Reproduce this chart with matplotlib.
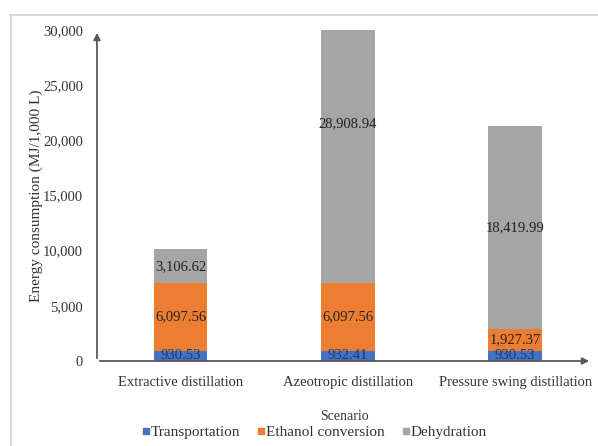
import matplotlib
matplotlib.use("Agg")
import matplotlib.pyplot as plt
from matplotlib.lines import Line2D
import numpy as np

scenarios = ["Extractive distillation", "Azeotropic distillation", "Pressure swing distillation"]
transportation = [930.53, 932.41, 930.53]
ethanol_conversion = [6097.56, 6097.56, 1927.37]
dehydration = [3106.62, 28908.94, 18419.99]
series_names = ["Transportation", "Ethanol conversion", "Dehydration"]
colors = ["#4472C4", "#ED7D31", "#A5A5A5"]
yticks = [0, 5000, 10000, 15000, 20000, 25000, 30000]

plt.rcParams["font.family"] = ["Liberation Serif", "DejaVu Serif"]

W, H = 598, 446
fig = plt.figure(figsize=(W / 100, H / 100), dpi=100)
ax = fig.add_axes([97 / W, 1 - 361 / H, (592 - 97) / W, (361 - 30) / H])

x = np.arange(len(scenarios))
width = 0.32
series = [transportation, ethanol_conversion, dehydration]
label_colors = ["#1F3864", "#222222", "#222222"]
bottom = np.zeros(len(scenarios))
for vals, name, c, lc in zip(series, series_names, colors, label_colors):
    vals = np.array(vals)
    ax.bar(x, vals, width, bottom=bottom, color=c, label=name, zorder=2)
    for xi, b, v in zip(x, bottom, vals):
        ax.text(xi, b + v / 2, f"{v:,.2f}", ha="center", va="center",
                fontsize=10.5, color=lc, zorder=3, clip_on=True)
    bottom += vals

ax.set_xlim(-0.5, 2.46)
ax.set_ylim(0, 30000)
ax.set_yticks(yticks)
ax.set_yticklabels([f"{t:,}" for t in yticks], fontsize=10.5, color="#333333")
ax.set_xticks(x)
ax.set_xticklabels(scenarios, fontsize=10.5, color="#333333")
ax.tick_params(axis="y", length=0, pad=10)
ax.tick_params(axis="x", length=0, pad=11)
for s in ax.spines.values():
    s.set_visible(False)

# axis lines drawn as arrows
arrow_kw = dict(arrowstyle="-|>", color="#595959", lw=1.3, mutation_scale=10)
ax.annotate("", xy=(0, 1.0), xytext=(0, 0), xycoords="axes fraction",
            arrowprops=arrow_kw, annotation_clip=False)
ax.annotate("", xy=(1.0, 0), xytext=(0, 0), xycoords="axes fraction",
            arrowprops=arrow_kw, annotation_clip=False)

ax.set_ylabel("Energy consumption (MJ/1,000 L)", fontsize=11, color="#333333", labelpad=0)

fig.text(344 / W, 1 - 416 / H, "Scenario", ha="center", va="center", fontsize=10, color="#333333")

handles = [Line2D([0], [0], marker="s", linestyle="none", markersize=4,
                  markerfacecolor=c, markeredgecolor=c) for c in colors]
fig.legend(handles, series_names, loc="center", bbox_to_anchor=(314 / W, 1 - 432 / H),
           ncol=3, frameon=False, fontsize=11, handletextpad=0.0, columnspacing=1.1,
           handlelength=0.6, labelcolor="#333333", borderpad=0, borderaxespad=0)

# light frame around the figure
fig.add_artist(Line2D([10 / W, 1], [1 - 15 / H, 1 - 15 / H], transform=fig.transFigure,
                      color="#d9d9d9", lw=1.5))
fig.add_artist(Line2D([11 / W, 11 / W], [0, 1 - 15 / H], transform=fig.transFigure,
                      color="#d9d9d9", lw=1.5))

fig.savefig("out.png", dpi=100)
